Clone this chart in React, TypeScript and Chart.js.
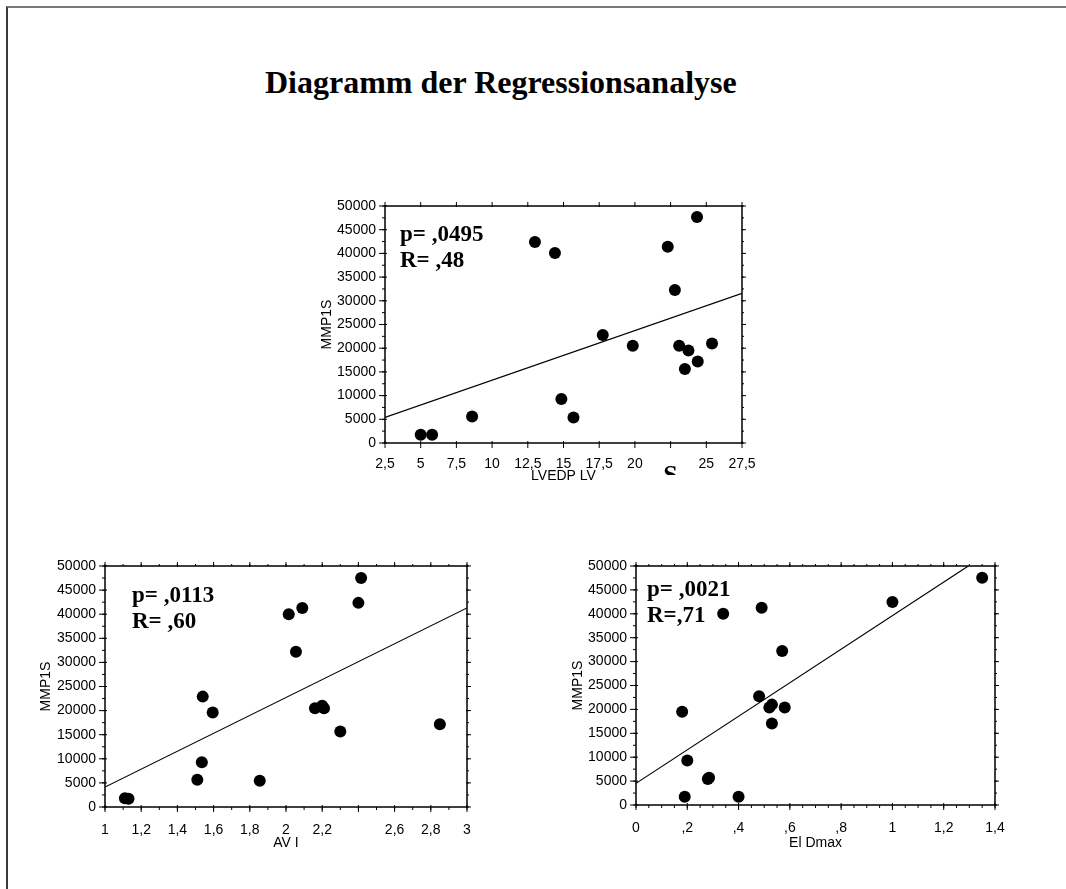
import React, { useEffect, useRef } from 'react';
import { Chart, registerables } from 'chart.js';

Chart.register(...registerables);

const SANS = '"Liberation Sans", Arial, sans-serif';
const SERIF = '"Liberation Serif", "Times New Roman", serif';

const TITLE = 'Diagramm der Regressionsanalyse';
const Y_TITLE = 'MMP1S';
const Y_TICK_VALUES = [0, 5000, 10000, 15000, 20000, 25000, 30000, 35000, 40000, 45000, 50000];
const Y_MINOR_STEP = 2500;

// Top chart: LVEDP LV
const TOP_X_TITLE = 'LVEDP LV';
const TOP_X_TICK_VALUES = [2.5, 5, 7.5, 10, 12.5, 15, 17.5, 20, 22.5, 25, 27.5];
const TOP_X_TICK_LABELS = ['2,5', '5', '7,5', '10', '12,5', '15', '17,5', '20', '', '25', '27,5'];
const TOP_X = [5.0, 5.8, 8.6, 13.0, 14.4, 14.85, 15.7, 17.75, 19.85, 22.3, 22.8, 23.1, 23.75, 23.5, 24.4, 24.35, 25.4];
const TOP_Y = [1750, 1750, 5600, 42400, 40100, 9300, 5400, 22800, 20500, 41400, 32300, 20500, 19500, 15600, 17200, 47700, 21000];
const TOP_FIT_X = [2.5, 27.5];
const TOP_FIT_Y = [5400, 31560];
const TOP_STATS = ['p= ,0495', 'R= ,48'];

// Bottom-left chart: AV I
const AV_X_TITLE = 'AV I';
const AV_X_TICK_VALUES = [1, 1.2, 1.4, 1.6, 1.8, 2, 2.2, 2.4, 2.6, 2.8, 3];
const AV_X_TICK_LABELS = ['1', '1,2', '1,4', '1,6', '1,8', '2', '2,2', '', '2,6', '2,8', '3'];
const AV_X = [1.11, 1.13, 1.51, 1.535, 1.54, 1.595, 1.855, 2.015, 2.055, 2.09, 2.16, 2.2, 2.21, 2.3, 2.4, 2.415, 2.85];
const AV_Y = [1800, 1700, 5650, 9300, 22900, 19600, 5450, 40000, 32200, 41300, 20500, 21000, 20500, 15650, 42350, 47500, 17150];
const AV_FIT_X = [1, 3];
const AV_FIT_Y = [4140, 41300];
const AV_STATS = ['p= ,0113', 'R= ,60'];

// Bottom-right chart: El Dmax
const EL_X_TITLE = 'El Dmax';
const EL_X_TICK_VALUES = [0, 0.2, 0.4, 0.6, 0.8, 1, 1.2, 1.4];
const EL_X_TICK_LABELS = ['0', ',2', ',4', ',6', ',8', '1', '1,2', '1,4'];
const EL_X = [0.18, 0.19, 0.2, 0.28, 0.285, 0.34, 0.4, 0.48, 0.49, 0.52, 0.53, 0.53, 0.57, 0.58, 1.0, 1.35];
const EL_Y = [19500, 1750, 9300, 5450, 5700, 40000, 1750, 22750, 41250, 20400, 21000, 17050, 32200, 20400, 42450, 47550];
const EL_FIT_X = [0, 1.296];
const EL_FIT_Y = [4530, 50000];
const EL_STATS = ['p= ,0021', 'R=,71'];

type PanelCfg = {
  left: number; top: number; width: number; height: number;
  padRight: number; padTop: number; yWidth: number; xHeight: number; xTickPad: number;
  xTitle: string; xTicks: number[]; xLabels: string[]; xMinorStep: number;
  xs: number[]; ys: number[]; fitX: number[]; fitY: number[];
  stats: string[]; statDx: number; statDy: number;
  extraGlyph?: { text: string; at: number; baselineDy: number; clipDy: number };
};

const PANELS: PanelCfg[] = [
  {
    left: 319, top: 180, width: 461, height: 305, padRight: 38, padTop: 26, yWidth: 66, xHeight: 42, xTickPad: 6.5,
    xTitle: TOP_X_TITLE, xTicks: TOP_X_TICK_VALUES, xLabels: TOP_X_TICK_LABELS, xMinorStep: 0,
    xs: TOP_X, ys: TOP_Y, fitX: TOP_FIT_X, fitY: TOP_FIT_Y,
    stats: TOP_STATS, statDx: 15, statDy: 35,
    extraGlyph: { text: 'S', at: 22.5, baselineDy: 40, clipDy: 32 },
  },
  {
    left: 38, top: 540, width: 462, height: 312, padRight: 33, padTop: 26, yWidth: 67, xHeight: 45, xTickPad: 8.5,
    xTitle: AV_X_TITLE, xTicks: AV_X_TICK_VALUES, xLabels: AV_X_TICK_LABELS, xMinorStep: 0.1,
    xs: AV_X, ys: AV_Y, fitX: AV_FIT_X, fitY: AV_FIT_Y,
    stats: AV_STATS, statDx: 27, statDy: 36,
  },
  {
    left: 570, top: 540, width: 470, height: 312, padRight: 45, padTop: 26, yWidth: 66, xHeight: 47, xTickPad: 8.5,
    xTitle: EL_X_TITLE, xTicks: EL_X_TICK_VALUES, xLabels: EL_X_TICK_LABELS, xMinorStep: 0.05,
    xs: EL_X, ys: EL_Y, fitX: EL_FIT_X, fitY: EL_FIT_Y,
    stats: EL_STATS, statDx: 11, statDy: 30,
  },
];

function minorValues(min: number, max: number, step: number): number[] {
  if (!step) return [];
  const n = Math.round((max - min) / step);
  const out: number[] = [];
  for (let i = 0; i <= n; i++) out.push(min + i * step);
  return out;
}

function Panel({ p }: { p: PanelCfg }) {
  const ref = useRef<HTMLCanvasElement>(null);
  useEffect(() => {
    const canvas = ref.current!;
    const xMin = p.xTicks[0];
    const xMax = p.xTicks[p.xTicks.length - 1];
    const frame = {
      id: 'frameTicks',
      afterDraw(chart: any) {
        const { ctx, chartArea: a, scales } = chart;
        const xs = scales.x;
        const ys = scales.y;
        const seg = (x1: number, y1: number, x2: number, y2: number) => {
          ctx.beginPath();
          ctx.moveTo(x1, y1);
          ctx.lineTo(x2, y2);
          ctx.stroke();
        };
        ctx.save();
        ctx.strokeStyle = '#000';
        ctx.lineWidth = 1.5;
        ctx.strokeRect(a.left, a.top, a.right - a.left, a.bottom - a.top);
        ctx.lineWidth = 1;
        // x minor ticks
        for (const v of minorValues(xMin, xMax, p.xMinorStep)) {
          const x = xs.getPixelForValue(v);
          seg(x, a.bottom, x, a.bottom + 3);
          seg(x, a.top, x, a.top - 2);
        }
        // x major ticks
        for (const v of p.xTicks) {
          const x = xs.getPixelForValue(v);
          seg(x, a.bottom - 2, x, a.bottom + 5);
          seg(x, a.top + 1, x, a.top - 4);
        }
        // y minor ticks
        for (const v of minorValues(0, 50000, Y_MINOR_STEP)) {
          const y = ys.getPixelForValue(v);
          seg(a.left - 3, y, a.left, y);
          seg(a.right, y, a.right + 2, y);
        }
        // y major ticks
        for (const v of Y_TICK_VALUES) {
          const y = ys.getPixelForValue(v);
          seg(a.left - 6, y, a.left + 2, y);
          seg(a.right - 1, y, a.right + 4, y);
        }
        // statistics text
        ctx.fillStyle = '#000';
        ctx.font = `bold 23px ${SERIF}`;
        ctx.textAlign = 'left';
        ctx.textBaseline = 'alphabetic';
        p.stats.forEach((s, i) => {
          ctx.fillText(s, a.left + p.statDx, a.top + p.statDy + i * 26);
        });
        if (p.extraGlyph) {
          const g = p.extraGlyph;
          const gx = xs.getPixelForValue(g.at);
          ctx.save();
          ctx.beginPath();
          ctx.rect(gx - 20, a.bottom, 40, g.clipDy);
          ctx.clip();
          ctx.font = `bold 26px ${SERIF}`;
          ctx.textAlign = 'center';
          ctx.fillText(g.text, gx, a.bottom + g.baselineDy);
          ctx.restore();
        }
        ctx.restore();
      },
    };

    const chart = new Chart(canvas, {
      type: 'scatter',
      data: {
        datasets: [
          {
            data: p.xs.map((x, i) => ({ x, y: p.ys[i] })),
            backgroundColor: '#000',
            borderWidth: 0,
            pointRadius: 6,
            pointHoverRadius: 6,
          },
          {
            data: p.fitX.map((x, i) => ({ x, y: p.fitY[i] })),
            showLine: true,
            borderColor: '#000',
            borderWidth: 1.2,
            pointRadius: 0,
            pointHoverRadius: 0,
          },
        ],
      },
      options: {
        animation: false,
        responsive: false,
        devicePixelRatio: 1,
        events: [],
        layout: { padding: { left: 0, right: p.padRight, top: p.padTop, bottom: 0 } },
        plugins: { legend: { display: false }, tooltip: { enabled: false } },
        scales: {
          x: {
            type: 'linear',
            min: xMin,
            max: xMax,
            afterBuildTicks: (s: any) => { s.ticks = p.xTicks.map((value) => ({ value })); },
            afterFit: (s: any) => { s.height = p.xHeight; },
            ticks: {
              autoSkip: false,
              maxRotation: 0,
              padding: p.xTickPad,
              color: '#000',
              font: { family: SANS, size: 14 },
              callback: (_v: any, i: number) => p.xLabels[i],
            },
            grid: { display: true, drawOnChartArea: false, drawTicks: true, tickLength: 6, color: 'rgba(0,0,0,0)' },
            border: { display: false },
            title: { display: true, text: p.xTitle, color: '#000', font: { family: SANS, size: 14 }, padding: 0 },
          },
          y: {
            type: 'linear',
            min: 0,
            max: 50000,
            afterBuildTicks: (s: any) => { s.ticks = Y_TICK_VALUES.map((value) => ({ value })); },
            afterFit: (s: any) => { s.width = p.yWidth; },
            ticks: {
              padding: 3,
              color: '#000',
              font: { family: SANS, size: 14 },
              callback: (v: any) => String(v),
            },
            grid: { display: true, drawOnChartArea: false, drawTicks: true, tickLength: 6, color: 'rgba(0,0,0,0)' },
            border: { display: false },
            title: { display: true, text: Y_TITLE, color: '#000', font: { family: SANS, size: 14 }, padding: 0 },
          },
        },
      },
      plugins: [frame],
    } as any);
    return () => chart.destroy();
  }, [p]);
  return (
    <canvas
      ref={ref}
      width={p.width}
      height={p.height}
      style={{ position: 'absolute', left: p.left, top: p.top, width: p.width, height: p.height }}
    />
  );
}

export default function App() {
  return (
    <div style={{ position: 'absolute', left: 0, top: 0, width: 1066, height: 889, background: '#fff', overflow: 'hidden' }}>
      <div
        style={{
          position: 'absolute', left: 6, top: 6, width: 1066, height: 900,
          borderTop: '2px solid #7a7a7a', borderLeft: '2px solid #3a3a3a',
        }}
      />
      <div
        style={{
          position: 'absolute', left: 265, top: 66, whiteSpace: 'nowrap',
          fontFamily: SERIF, fontWeight: 'bold', fontSize: 32, lineHeight: '32px', color: '#000',
        }}
      >
        {TITLE}
      </div>
      {PANELS.map((p, i) => (
        <Panel key={i} p={p} />
      ))}
    </div>
  );
}
